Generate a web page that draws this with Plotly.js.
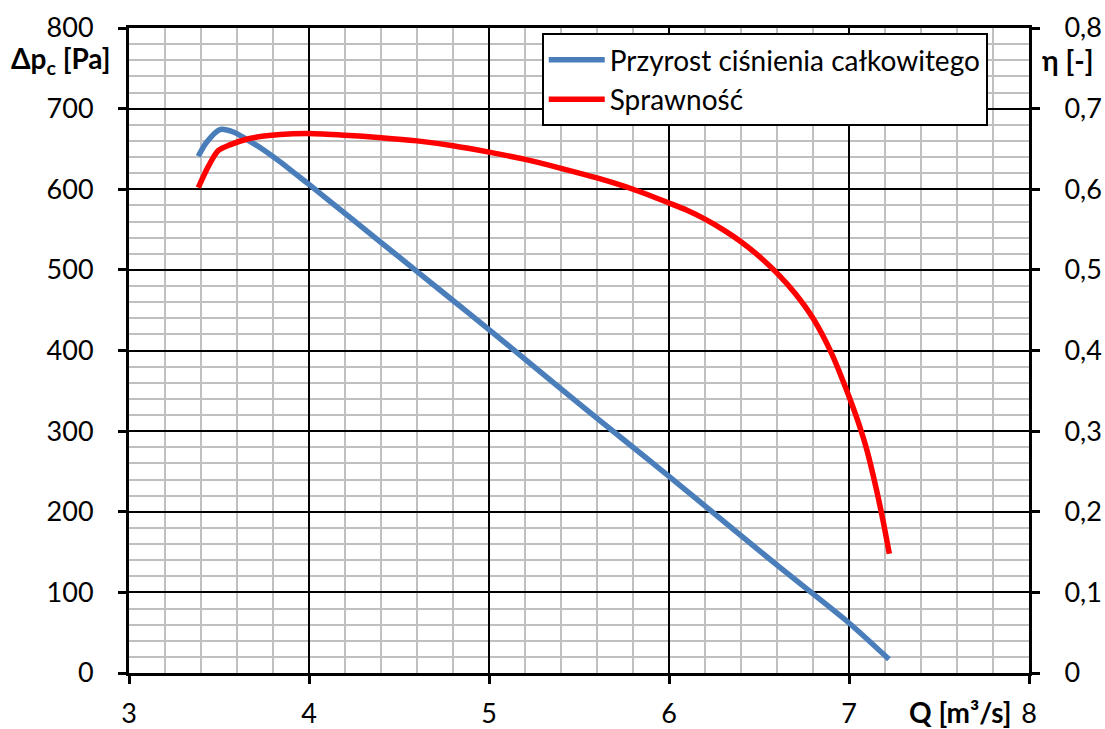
<!DOCTYPE html>
<html>
<head>
<meta charset="utf-8">
<script src="https://cdn.plot.ly/plotly-3.0.1.min.js"></script>
<style>
  html, body { margin: 0; padding: 0; background: #ffffff; }
  #chart { width: 1105px; height: 729px; }
</style>
</head>
<body>
<div id="chart"></div>
<script>
// Fan characteristic: total pressure rise and efficiency versus flow rate
const flowPressure = [3.385, 3.43, 3.505, 3.58, 3.653, 3.74, 3.84, 3.92, 4.0, 4.25, 4.5, 4.75, 5.0, 5.25, 5.5, 5.75, 6.0, 6.25, 6.5, 6.75, 7.0, 7.222];
const pressureRise = [641, 658, 674, 671, 662, 650, 634, 620, 606, 561, 516, 471, 426, 380, 334, 289, 244, 198, 152, 107, 62, 17];

const flowEfficiency = [3.385, 3.44, 3.496, 3.56, 3.653, 3.75, 3.84, 4.0, 4.2, 4.4, 4.6, 4.8, 5.0, 5.2, 5.4, 5.6, 5.8, 6.0, 6.1, 6.2, 6.3, 6.4, 6.5, 6.6, 6.7, 6.8, 6.9, 7.0, 7.05, 7.1, 7.15, 7.19, 7.224];
const efficiency = [0.602, 0.628, 0.648, 0.655, 0.662, 0.666, 0.668, 0.669, 0.667, 0.664, 0.660, 0.654, 0.646, 0.637, 0.626, 0.614, 0.600, 0.583, 0.574, 0.563, 0.550, 0.535, 0.517, 0.496, 0.471, 0.440, 0.398, 0.343, 0.312, 0.276, 0.230, 0.188, 0.148];

const seriesNames = ['Przyrost ciśnienia całkowitego', 'Sprawność'];
const xTicks = [3, 4, 5, 6, 7, 8];
const yTicks = [0, 100, 200, 300, 400, 500, 600, 700, 800];
const y2Ticks = [0, 0.1, 0.2, 0.3, 0.4, 0.5, 0.6, 0.7, 0.8];
const y2TickText = ['0', '0,1', '0,2', '0,3', '0,4', '0,5', '0,6', '0,7', '0,8'];

const FONT = 'Lato, "Open Sans", "DejaVu Sans", sans-serif';

const traces = [
  {
    x: flowPressure, y: pressureRise, name: seriesNames[0],
    type: 'scatter', mode: 'lines',
    line: { color: '#4a7ebb', width: 5.5, shape: 'spline', smoothing: 0.8 },
    xaxis: 'x', yaxis: 'y'
  },
  {
    x: flowEfficiency, y: efficiency, name: seriesNames[1],
    type: 'scatter', mode: 'lines',
    line: { color: '#ff0000', width: 5.5, shape: 'spline', smoothing: 0.8 },
    xaxis: 'x', yaxis: 'y2'
  }
];

const layout = {
  width: 1105, height: 729,
  margin: { l: 129, r: 76, t: 28, b: 56 },
  paper_bgcolor: '#ffffff', plot_bgcolor: '#ffffff',
  font: { family: FONT, size: 27, color: '#000000' },
  showlegend: true,
  legend: {
    x: 0.4586, y: 0.992, xanchor: 'left', yanchor: 'top',
    bgcolor: '#ffffff', bordercolor: '#000000', borderwidth: 2,
    font: { family: FONT, size: 28, color: '#000000' },
    tracegroupgap: 0, itemwidth: 56
  },
  xaxis: {
    range: [3, 8], tickmode: 'array', tickvals: xTicks, ticktext: xTicks.map(String),
    showline: true, linecolor: '#000000', linewidth: 3, mirror: true,
    ticks: 'outside', ticklen: 8, tickwidth: 3, tickcolor: '#000000',
    showgrid: true, gridcolor: '#000000', gridwidth: 2,
    minor: { dtick: 0.2, tick0: 3, showgrid: true, gridcolor: '#c0c0c0', gridwidth: 2, ticks: '' },
    zeroline: false, tickfont: { family: FONT, size: 27, color: '#000000' },
    ticklabelstandoff: 7, fixedrange: true
  },
  yaxis: {
    range: [0, 800], tickmode: 'array', tickvals: yTicks, ticktext: yTicks.map(String),
    showline: true, linecolor: '#000000', linewidth: 3,
    ticks: 'outside', ticklen: 8, tickwidth: 3, tickcolor: '#000000',
    showgrid: true, gridcolor: '#000000', gridwidth: 2,
    minor: { dtick: 20, tick0: 0, showgrid: true, gridcolor: '#c0c0c0', gridwidth: 2, ticks: '' },
    zeroline: false, tickfont: { family: FONT, size: 27, color: '#000000' },
    ticklabelstandoff: 19, fixedrange: true
  },
  yaxis2: {
    range: [0, 0.8], overlaying: 'y', side: 'right',
    tickmode: 'array', tickvals: y2Ticks, ticktext: y2TickText,
    showline: true, linecolor: '#000000', linewidth: 3,
    ticks: 'outside', ticklen: 8, tickwidth: 3, tickcolor: '#000000',
    showgrid: false, zeroline: false,
    tickfont: { family: FONT, size: 27, color: '#000000' },
    ticklabelstandoff: 19, fixedrange: true
  },
  annotations: [
    {
      text: '<b>Δp<sub>c</sub> [Pa]</b>', xref: 'paper', yref: 'paper',
      x: -0.018, y: 0.95, xanchor: 'right', yanchor: 'middle', showarrow: false,
      font: { family: FONT, size: 28, color: '#000000' }
    },
    {
      text: '<b>η [-]</b>', xref: 'paper', yref: 'paper',
      x: 1.012, y: 0.95, xanchor: 'left', yanchor: 'middle', showarrow: false,
      font: { family: FONT, size: 28, color: '#000000' }
    },
    {
      text: '<b>Q [m³/s]</b>', xref: 'paper', yref: 'paper',
      x: 0.982, y: -0.061, xanchor: 'right', yanchor: 'middle', showarrow: false,
      font: { family: FONT, size: 28, color: '#000000' }
    }
  ]
};

Plotly.newPlot('chart', traces, layout, { staticPlot: true, displayModeBar: false });
</script>
</body>
</html>
